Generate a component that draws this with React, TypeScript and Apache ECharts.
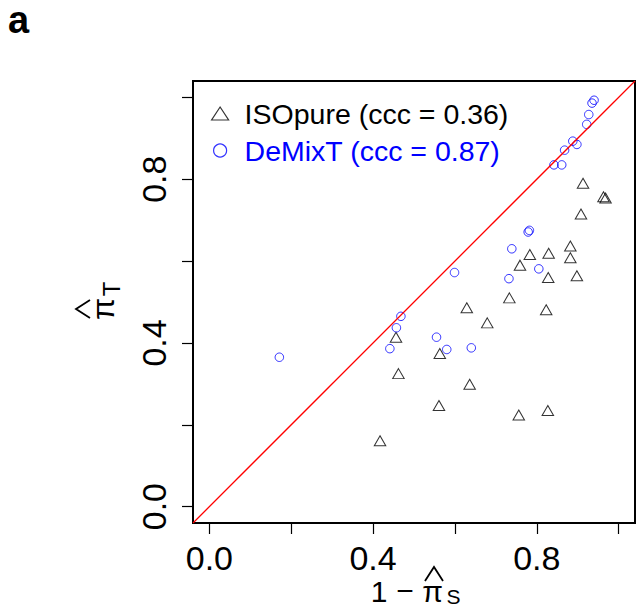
import { useEffect, useRef } from "react";
import * as echarts from "echarts";

const FONT = "'Liberation Sans', Arial, Helvetica, sans-serif";

// ISOpure estimates: x = 1 - pi_S, y = pi_T
const isopureX = [0.913, 0.963, 0.968, 0.908, 0.882, 0.783, 0.829, 0.882, 0.759, 0.828, 0.898, 0.733, 0.823, 0.629, 0.679, 0.456, 0.563, 0.462, 0.636, 0.561, 0.756, 0.827, 0.417];
const isopureY = [0.790, 0.757, 0.754, 0.715, 0.637, 0.616, 0.619, 0.608, 0.590, 0.560, 0.564, 0.510, 0.481, 0.486, 0.449, 0.414, 0.374, 0.325, 0.299, 0.247, 0.224, 0.235, 0.161];

// DeMixT estimates: x = 1 - pi_S, y = pi_T
const demixtX = [0.940, 0.935, 0.927, 0.922, 0.888, 0.898, 0.868, 0.842, 0.861, 0.782, 0.779, 0.739, 0.805, 0.732, 0.599, 0.468, 0.457, 0.555, 0.441, 0.580, 0.640, 0.171];
const demixtY = [0.993, 0.986, 0.958, 0.934, 0.893, 0.885, 0.871, 0.835, 0.835, 0.675, 0.671, 0.630, 0.581, 0.557, 0.572, 0.465, 0.437, 0.414, 0.386, 0.384, 0.388, 0.365];

const legendNames = ["ISOpure (ccc = 0.36)", "DeMixT (ccc = 0.87)"];
const tickValues = [0, 0.2, 0.4, 0.6, 0.8, 1.0];
const labelValues = [0, 0.4, 0.8];
const axisRange = [-0.04, 1.04];
// identity line y = x across the whole plotting range
const identityLine = [
  [axisRange[0], axisRange[0]],
  [axisRange[1], axisRange[1]],
];

function axisOption(labelExtra: Record<string, unknown>) {
  return {
    type: "value",
    min: axisRange[0],
    max: axisRange[1],
    splitLine: { show: false },
    axisLine: { show: true, onZero: false, lineStyle: { color: "#000", width: 2 } },
    axisTick: {
      show: true,
      inside: false,
      length: 11,
      customValues: tickValues,
      lineStyle: { color: "#000", width: 1.2 },
    },
    axisLabel: {
      show: true,
      customValues: labelValues,
      formatter: (v: number) => v.toFixed(1),
      color: "#000",
      fontSize: 34,
      lineHeight: 30,
      fontFamily: FONT,
      ...labelExtra,
    },
  };
}

export default function App() {
  const ref = useRef<HTMLDivElement>(null);

  useEffect(() => {
    document.body.style.margin = "0";
    if (!ref.current) return;
    const chart = echarts.init(ref.current, null, { renderer: "svg" });

    const mainSize = 30;
    const subSize = 21;
    const txt = (text: string, x: number, y: number, size: number, rotation = 0) => ({
      type: "text",
      x,
      y,
      rotation,
      style: {
        text,
        fill: "#000",
        font: `${size}px ${FONT}`,
        lineHeight: Math.round(size * 0.75),
        align: "center",
        verticalAlign: "middle",
      },
    });

    chart.setOption({
      animation: false,
      backgroundColor: "#fff",
      title: {
        text: "a",
        left: 8,
        top: 1,
        padding: 0,
        textStyle: { fontSize: 38, lineHeight: 38, fontWeight: "bold", fontFamily: FONT, color: "#000" },
      },
      grid: {
        left: 193,
        top: 81,
        width: 442,
        height: 442,
        show: true,
        borderColor: "#000",
        borderWidth: 2,
        containLabel: false,
      },
      xAxis: axisOption({ margin: 20 }),
      yAxis: axisOption({ rotate: 90, margin: 24 }),
      legend: {
        orient: "vertical",
        left: 211,
        top: 99,
        itemWidth: 17,
        itemHeight: 13,
        itemGap: 8,
        padding: 0,
        selectedMode: false,
        itemStyle: { borderWidth: 1.2 },
        textStyle: { fontSize: 28.5, lineHeight: 28, fontFamily: FONT, padding: [0, 0, 0, 11] },
        data: [
          { name: legendNames[0], icon: "triangle", textStyle: { color: "#000" } },
          { name: legendNames[1], icon: "circle", textStyle: { color: "#0000ff" } },
        ],
      },
      series: [
        {
          name: legendNames[0],
          type: "scatter",
          symbol: "triangle",
          symbolSize: [11.5, 10],
          data: isopureX.map((x, i) => [x, isopureY[i]]),
          itemStyle: { color: "transparent", borderColor: "#000", borderWidth: 1 },
          emphasis: { disabled: true },
          z: 2,
        },
        {
          name: legendNames[1],
          type: "scatter",
          symbol: "circle",
          symbolSize: 8.5,
          data: demixtX.map((x, i) => [x, demixtY[i]]),
          itemStyle: { color: "transparent", borderColor: "#0000ff", borderWidth: 1 },
          emphasis: { disabled: true },
          z: 2,
        },
        {
          type: "line",
          data: identityLine,
          showSymbol: false,
          symbol: "none",
          lineStyle: { color: "#ff0000", width: 1.3 },
          silent: true,
          z: 3,
        },
      ],
      graphic: [
        // x axis title: 1 − π̂_S
        txt("1", 379, 591, mainSize),
        txt("\u2212", 405, 590, mainSize),
        txt("\u03c0", 432.5, 591, mainSize),
        txt("S", 453.5, 596.5, subSize),
        {
          type: "polyline",
          shape: { points: [[425, 581], [434, 567], [443, 581]] },
          style: { stroke: "#000", lineWidth: 1.8, fill: "none" },
        },
        // y axis title: π̂_T, rotated
        txt("\u03c0", 103, 309, 32, Math.PI / 2),
        txt("T", 111, 289, 24, Math.PI / 2),
        {
          type: "polyline",
          shape: { points: [[90, 300], [76, 309], [90, 318]] },
          style: { stroke: "#000", lineWidth: 1.8, fill: "none" },
        },
      ],
    });

    return () => chart.dispose();
  }, []);

  return <div ref={ref} style={{ width: 638, height: 609 }} />;
}
